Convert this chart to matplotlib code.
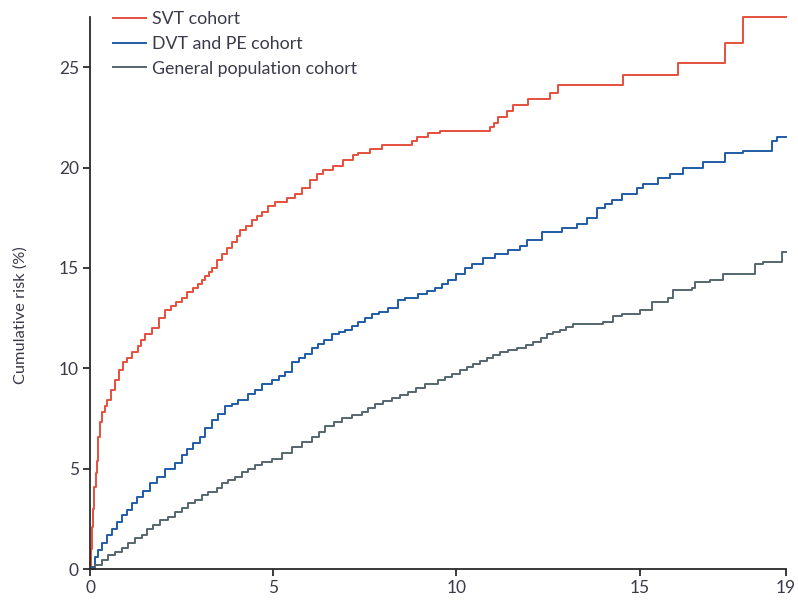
import matplotlib.pyplot as plt

# cumulative risk step curves (years, %)
svt_years = [0, 0.02, 0.05, 0.08, 0.11, 0.15, 0.19, 0.22, 0.27, 0.33, 0.40, 0.46, 0.57,
             0.68, 0.80, 0.90, 1.00, 1.15, 1.30, 1.40, 1.50, 1.69, 1.87, 2.05, 2.20,
             2.35, 2.51, 2.65, 2.80, 2.95, 3.05, 3.15, 3.25, 3.33, 3.47, 3.60, 3.74,
             3.88, 4.00, 4.10, 4.25, 4.42, 4.55, 4.70, 4.85, 5.05, 5.38, 5.60, 5.79,
             6.01, 6.20, 6.36, 6.63, 6.90, 7.18, 7.32, 7.64, 7.97, 8.79, 8.93,
             9.23, 9.56, 10.92, 11.03, 11.14, 11.38, 11.55, 11.96, 12.56, 12.78,
             14.55, 16.05, 17.34, 17.83, 19.0]
svt_risk = [0, 1.0, 2.1, 3.0, 4.1, 4.8, 5.4, 6.6, 7.3, 7.8, 8.1, 8.4, 8.9,
            9.4, 9.9, 10.3, 10.5, 10.8, 11.1, 11.4, 11.7, 12.0, 12.5, 12.9, 13.1,
            13.3, 13.5, 13.8, 14.0, 14.2, 14.4, 14.6, 14.8, 15.0, 15.4, 15.7, 16.0,
            16.3, 16.6, 16.9, 17.1, 17.4, 17.6, 17.8, 18.1, 18.3, 18.5, 18.7, 19.0,
            19.4, 19.7, 19.9, 20.1, 20.4, 20.6, 20.7, 20.9, 21.1, 21.3, 21.5,
            21.7, 21.8, 22.0, 22.2, 22.5, 22.8, 23.1, 23.4, 23.7, 24.1,
            24.6, 25.2, 26.2, 27.5, 27.5]

dvt_years = [0, 0.05, 0.14, 0.23, 0.32, 0.46, 0.59, 0.73, 0.86, 1.00, 1.14, 1.27, 1.46,
             1.64, 1.82, 2.05, 2.32, 2.50, 2.64, 2.82, 3.00, 3.14, 3.32, 3.50, 3.69,
             3.87, 4.05, 4.32, 4.50, 4.69, 4.96, 5.15, 5.32, 5.51, 5.70, 5.87, 6.05,
             6.22, 6.40, 6.61, 6.80, 6.96, 7.15, 7.32, 7.50, 7.70, 7.90, 8.14, 8.41,
             8.60, 8.95, 9.20, 9.42, 9.60, 9.77, 10.00, 10.24, 10.43, 10.73, 11.06,
             11.41, 11.74, 11.93, 12.34, 12.89, 13.30, 13.57, 13.84, 14.05, 14.25,
             14.52, 14.93, 15.10, 15.51, 15.83, 16.19, 16.74, 17.34, 17.83, 18.62,
             18.76, 19.0]
dvt_risk = [0, 0.11, 0.6, 0.95, 1.3, 1.7, 2.0, 2.35, 2.7, 2.95, 3.3, 3.6, 3.9,
            4.3, 4.6, 5.0, 5.3, 5.7, 6.0, 6.3, 6.6, 7.0, 7.4, 7.7, 8.1,
            8.2, 8.4, 8.7, 8.9, 9.2, 9.4, 9.6, 9.8, 10.3, 10.5, 10.7, 11.0,
            11.2, 11.4, 11.7, 11.8, 11.9, 12.1, 12.3, 12.5, 12.7, 12.8, 13.0, 13.4,
            13.5, 13.7, 13.85, 14.0, 14.2, 14.4, 14.7, 15.0, 15.2, 15.5, 15.7,
            15.9, 16.1, 16.4, 16.8, 17.0, 17.2, 17.5, 18.0, 18.2, 18.4,
            18.7, 19.0, 19.2, 19.5, 19.7, 20.0, 20.3, 20.7, 20.8, 21.3,
            21.5, 21.5]

gen_years = [0, 0.14, 0.32, 0.50, 0.68, 0.86, 1.05, 1.23, 1.41, 1.55, 1.73, 1.91, 2.14,
             2.32, 2.50, 2.68, 2.87, 3.05, 3.23, 3.46, 3.60, 3.78, 3.96, 4.14, 4.32,
             4.50, 4.69, 4.96, 5.23, 5.51, 5.78, 6.06, 6.24, 6.42, 6.65, 6.88, 7.15,
             7.43, 7.60, 7.78, 8.00, 8.24, 8.46, 8.68, 8.90, 9.15, 9.50, 9.70, 9.88,
             10.10, 10.28, 10.46, 10.65, 10.84, 11.00, 11.19, 11.42, 11.66, 11.90,
             12.09, 12.30, 12.48, 12.65, 12.83, 13.00, 13.19, 14.00, 14.28, 14.52,
             15.02, 15.34, 15.78, 15.92, 16.43, 16.52, 16.93, 17.28, 18.15, 18.37,
             18.89, 19.0]
gen_risk = [0, 0.2, 0.45, 0.7, 0.85, 1.05, 1.3, 1.55, 1.7, 2.0, 2.2, 2.45, 2.6,
            2.85, 3.05, 3.3, 3.45, 3.7, 3.85, 4.05, 4.3, 4.45, 4.6, 4.85, 5.0,
            5.2, 5.35, 5.5, 5.8, 6.1, 6.35, 6.6, 6.85, 7.1, 7.3, 7.5, 7.65,
            7.8, 8.0, 8.2, 8.35, 8.5, 8.65, 8.8, 9.0, 9.2, 9.4, 9.55, 9.7,
            9.9, 10.05, 10.2, 10.35, 10.5, 10.65, 10.8, 10.9, 11.0, 11.15,
            11.3, 11.5, 11.7, 11.8, 11.9, 12.05, 12.2, 12.3, 12.6, 12.7,
            12.9, 13.3, 13.5, 13.9, 14.0, 14.3, 14.4, 14.7, 15.2, 15.3,
            15.8, 15.8]

x_ticks = [0, 5, 10, 15, 19]
y_ticks = [0, 5, 10, 15, 20, 25]

text_col = '#3a3a4a'
plt.rcParams['font.family'] = ['Lato', 'DejaVu Sans']

fig = plt.figure(figsize=(7.98, 6.02), dpi=100)
ax = fig.add_axes([0.1128, 0.0548, 0.8722, 0.917])

ax.step(svt_years, svt_risk, where='post', color='#e5503d', lw=1.4,
        label='SVT cohort', clip_on=False)
ax.step(dvt_years, dvt_risk, where='post', color='#1f5ca6', lw=1.4,
        label='DVT and PE cohort', clip_on=False)
ax.step(gen_years, gen_risk, where='post', color='#56666e', lw=1.4,
        label='General population cohort', clip_on=False)

ax.set_xlim(0, 19)
ax.set_ylim(0, 27.5)
ax.set_xticks(x_ticks)
ax.set_yticks(y_ticks)
for s in ['top', 'right']:
    ax.spines[s].set_visible(False)
for s in ['left', 'bottom']:
    ax.spines[s].set_linewidth(1.3)
    ax.spines[s].set_color('#2a2a2a')
ax.tick_params(direction='out', length=5, width=1.3, color='#2a2a2a',
               labelsize=12.5, labelcolor=text_col, pad=3)
ax.set_ylabel('Cumulative risk (%)', fontsize=11.8, color=text_col)
ax.yaxis.set_label_coords(-0.09, 0.46)

ax.legend(loc='upper left', bbox_to_anchor=(0.1416, 0.982), bbox_transform=fig.transFigure,
          frameon=False, fontsize=12.8, handlelength=1.85, handletextpad=0.35,
          labelspacing=0.5, borderpad=0, borderaxespad=0, labelcolor=text_col)

fig.savefig('out.png', dpi=100)
